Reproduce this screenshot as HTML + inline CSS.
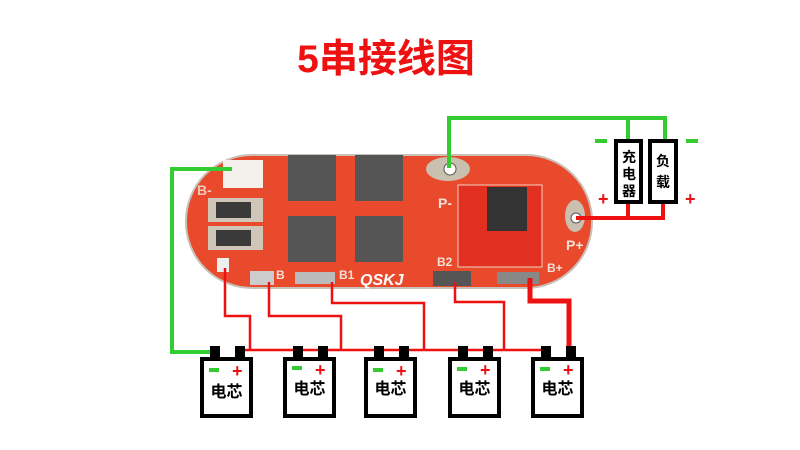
<!DOCTYPE html>
<html><head><meta charset="utf-8"><style>
body{margin:0;background:#fff;width:800px;height:450px;overflow:hidden}
svg{display:block}
text{font-family:"Liberation Sans","Noto Sans CJK SC",sans-serif;font-weight:bold}
</style></head><body>
<svg width="800" height="450" viewBox="0 0 800 450">
<text x="386" y="72" font-size="39" fill="#ee1111" text-anchor="middle">5串接线图</text>
<!-- board -->
<rect x="186" y="155" width="406" height="133" rx="66" fill="#e94a2c" stroke="#c9c0b8" stroke-width="2"/>
<rect x="223" y="160" width="40" height="28" fill="#f4f0ec"/>
<text x="197" y="195" font-size="14" fill="#f2c8b8">B-</text>
<rect x="208" y="198" width="55" height="24" fill="#cfc6b8"/><rect x="216" y="202" width="35" height="16" fill="#3a3a3a"/>
<rect x="208" y="226" width="55" height="24" fill="#cfc6b8"/><rect x="216" y="230" width="35" height="16" fill="#3a3a3a"/>
<rect x="288" y="155" width="48" height="46" fill="#555"/><rect x="355" y="155" width="48" height="46" fill="#555"/>
<rect x="288" y="216" width="48" height="46" fill="#555"/><rect x="355" y="216" width="48" height="46" fill="#555"/>
<ellipse cx="448" cy="169" rx="22" ry="12" fill="#c9c0b0"/>
<circle cx="450" cy="169" r="6" fill="#fff" stroke="#555"/>
<rect x="458" y="185" width="84" height="82" fill="#e23020" stroke="#f0d0c0"/>
<rect x="487" y="187" width="40" height="44" fill="#333"/>
<text x="438" y="208" font-size="14" fill="#f5e0d8">P-</text>
<text x="566" y="250" font-size="14" fill="#f5e0d8">P+</text>
<text x="547" y="272" font-size="12" fill="#f5e0d8">B+</text>
<text x="437" y="266" font-size="12" fill="#f5e0d8">B2</text>
<text x="339" y="279" font-size="12" fill="#f5e0d8">B1</text>
<text x="276" y="279" font-size="12" fill="#f5e0d8">B</text>
<text x="360" y="285" font-size="16" fill="#fff" font-style="italic">QSKJ</text>
<ellipse cx="575" cy="216" rx="10" ry="16" fill="#c9c0b0"/>
<circle cx="576" cy="218" r="5" fill="#fff" stroke="#555"/>
<rect x="217" y="258" width="12" height="14" fill="#eee"/>
<rect x="250" y="271" width="24" height="14" fill="#ccc"/>
<rect x="295" y="272" width="40" height="12" fill="#bbb"/>
<rect x="433" y="271" width="38" height="15" fill="#555"/>
<rect x="497" y="272" width="42" height="12" fill="#888"/>
<!-- green -->
<g fill="none" stroke="#33cc33" stroke-width="4">
<polyline points="232,169 172,169 172,352 210,352"/>
<polyline points="449,168 449,118 665,118 665,139"/>
<line x1="628" y1="118" x2="628" y2="139"/>
</g>
<rect x="595" y="139" width="12" height="4" fill="#33cc33"/>
<rect x="686" y="139" width="12" height="4" fill="#33cc33"/>
<text x="598" y="205" font-size="18" fill="#ee1111">+</text>
<text x="685" y="205" font-size="18" fill="#ee1111">+</text>
<!-- red right -->
<g fill="none" stroke="#ee1111" stroke-width="4">
<polyline points="576,218 663,218 663,203"/>
<line x1="628" y1="218" x2="628" y2="203"/>
</g>
<rect x="616" y="141" width="25" height="61" fill="#fff" stroke="#000" stroke-width="4"/>
<rect x="650" y="141" width="26" height="61" fill="#fff" stroke="#000" stroke-width="4"/>
<text x="629" y="162" font-size="14" text-anchor="middle">充</text>
<text x="629" y="179" font-size="14" text-anchor="middle">电</text>
<text x="629" y="196" font-size="14" text-anchor="middle">器</text>
<text x="663" y="166" font-size="14" text-anchor="middle">负</text>
<text x="663" y="187" font-size="14" text-anchor="middle">载</text>
<!-- red taps -->
<g fill="none" stroke="#ee1111" stroke-width="2.5">
<polyline points="225,268 225,316 250,316 250,350"/>
<polyline points="269,282 269,316 341,316 341,350"/>
<polyline points="332,282 332,303 424,303 424,350"/>
<polyline points="455,282 455,302 504,302 504,350"/>
<line x1="240" y1="350" x2="545" y2="350"/>
</g>
<polyline points="530,278 530,301 569,301 569,350" fill="none" stroke="#ee1111" stroke-width="5"/>
<!-- batteries -->
<g>
<g transform="translate(200,0)"><rect x="10" y="346" width="10" height="12" fill="#000"/><rect x="35" y="346" width="10" height="12" fill="#000"/><rect x="2" y="359" width="49" height="57" fill="#fff" stroke="#000" stroke-width="4"/><rect x="9" y="368" width="10" height="4" fill="#33cc33"/><text x="32" y="377" font-size="18" fill="#ee1111">+</text><text x="26.5" y="397" font-size="16" text-anchor="middle">电芯</text></g>
<g transform="translate(283,0)"><rect x="10" y="346" width="10" height="12" fill="#000"/><rect x="35" y="346" width="10" height="12" fill="#000"/><rect x="2" y="359" width="49" height="57" fill="#fff" stroke="#000" stroke-width="4"/><rect x="9" y="366" width="10" height="4" fill="#33cc33"/><text x="32" y="376" font-size="18" fill="#ee1111">+</text><text x="26.5" y="394" font-size="16" text-anchor="middle">电芯</text></g>
<g transform="translate(364,0)"><rect x="10" y="346" width="10" height="12" fill="#000"/><rect x="35" y="346" width="10" height="12" fill="#000"/><rect x="2" y="359" width="49" height="57" fill="#fff" stroke="#000" stroke-width="4"/><rect x="9" y="368" width="10" height="4" fill="#33cc33"/><text x="32" y="377" font-size="18" fill="#ee1111">+</text><text x="26.5" y="394" font-size="16" text-anchor="middle">电芯</text></g>
<g transform="translate(448,0)"><rect x="10" y="346" width="10" height="12" fill="#000"/><rect x="35" y="346" width="10" height="12" fill="#000"/><rect x="2" y="359" width="49" height="57" fill="#fff" stroke="#000" stroke-width="4"/><rect x="9" y="367" width="10" height="4" fill="#33cc33"/><text x="32" y="376" font-size="18" fill="#ee1111">+</text><text x="26.5" y="394" font-size="16" text-anchor="middle">电芯</text></g>
<g transform="translate(531,0)"><rect x="10" y="346" width="10" height="12" fill="#000"/><rect x="35" y="346" width="10" height="12" fill="#000"/><rect x="2" y="359" width="49" height="57" fill="#fff" stroke="#000" stroke-width="4"/><rect x="9" y="367" width="10" height="4" fill="#33cc33"/><text x="32" y="376" font-size="18" fill="#ee1111">+</text><text x="26.5" y="394" font-size="16" text-anchor="middle">电芯</text></g>
</g>
</svg>
</body></html>
